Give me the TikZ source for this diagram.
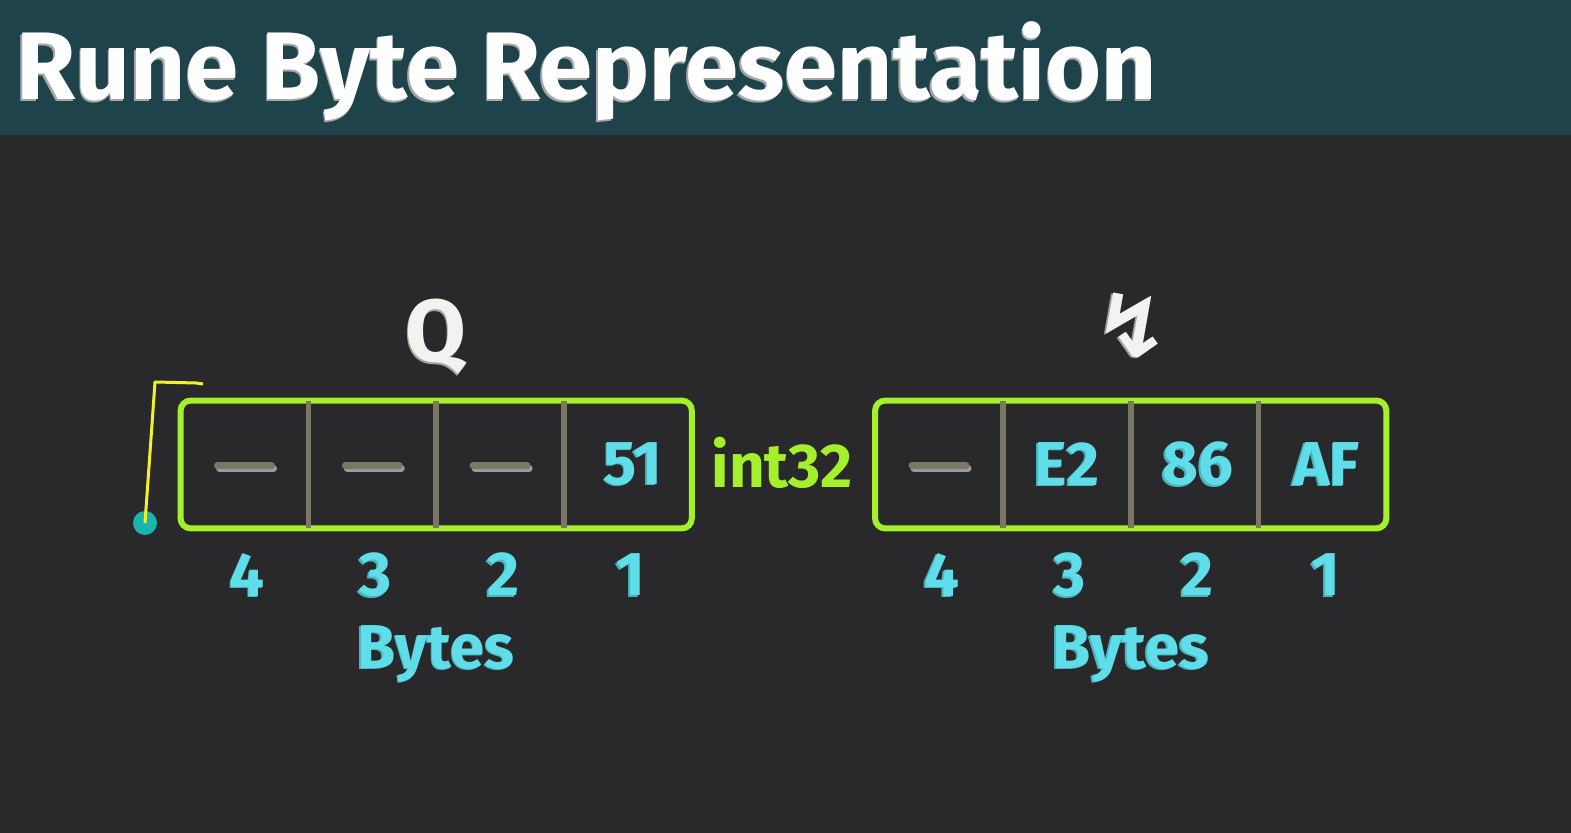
\documentclass[tikz,border=0pt]{standalone}
\usepackage{fontspec}
\setmainfont{Fira Sans}
\newfontfamily\symfont{DejaVu Sans}
\usepackage{xcolor}
\definecolor{bgdark}{HTML}{29282B}
\definecolor{headteal}{HTML}{1F434B}
\definecolor{framegreen}{HTML}{A4F02B}
\definecolor{divgray}{HTML}{7A7763}
\definecolor{bytecyan}{HTML}{5FDDE8}
\definecolor{cyanshade}{HTML}{4AB5BF}
\definecolor{dotteal}{HTML}{1AB5AE}
\definecolor{penyellow}{HTML}{F2F22C}
\definecolor{softwhite}{HTML}{F2F2F0}
\usetikzlibrary{positioning, calc, fit}
% text with a small offset shade behind it
\newcommand\shtxt[2]{\makebox[0pt][l]{\kern-0.8pt\raisebox{-0.8pt}{\textcolor{#1}{#2}}}#2}

\begin{document}
\begin{tikzpicture}[x=0.5pt, y=-0.5pt,
  cell/.style={minimum width=63.5pt, minimum height=63.5pt, inner sep=0pt,
    font=\fontsize{31}{33}\selectfont\bfseries, text=bytecyan},
  frame/.style={draw=framegreen, line width=3pt, rounded corners=5pt, inner sep=0pt},
  divider/.style={draw=divgray, line width=2.8pt},
  nodash/.style={draw=divgray, line width=3.5pt, line cap=round},
  numlbl/.style={font=\fontsize{31}{33}\selectfont\bfseries, text=bytecyan, inner sep=0pt},
  glyph/.style={font=\fontsize{44}{46}\selectfont\bfseries, text=softwhite, inner sep=0pt},
  pen/.style={draw=penyellow, line width=1.5pt, line join=round},
  dot/.style={circle, fill=dotteal, minimum size=12pt, inner sep=0pt},
]
  \useasboundingbox (0,0) rectangle (1571,833);
  \fill[bgdark] (0,0) rectangle (1571,833);
  \fill[headteal] (0,0) rectangle (1571,135);
  \node[anchor=base west, inner sep=0pt, text=white,
    font=\fontsize{48}{50}\selectfont\bfseries] (title) at (16,100)
    {\shtxt{black!35}{Rune Byte Representation}};

  % left rune: Q
  \node[cell] (q4) at (244.5,464.5) {};
  \node[cell, right=0pt of q4] (q3) {};
  \node[cell, right=0pt of q3] (q2) {};
  \node[cell, right=0pt of q2] (q1) {\hspace{5pt}\shtxt{cyanshade}{51}};
  \node[frame, fit=(q4)(q1)] (qbox) {};
  \foreach \c in {q4,q3,q2}
    \draw[divider] (\c.north east) -- (\c.south east);
  \foreach \c in {q4,q3,q2} {
    \draw[nodash, draw=black!40] ($(\c.center)+(-25,4)$) -- ($(\c.center)+(29,4)$);
    \draw[nodash] ($(\c.center)+(-27,1)$) -- ($(\c.center)+(27,1)$);
  }
  \node[glyph, anchor=base] (qchar) at ($(qbox.north)+(0,-36)$) {\shtxt{black!35}{Q}};

  % type in between
  \node[numlbl, text=framegreen, anchor=base] (type) at (782,488) {int32};

  % right rune: zigzag arrow
  \node[cell] (z4) at (939,464.5) {};
  \node[cell, right=0pt of z4] (z3) {\shtxt{cyanshade}{E2}};
  \node[cell, right=0pt of z3] (z2) {\hspace{3pt}\shtxt{cyanshade}{86}};
  \node[cell, right=0pt of z2] (z1) {\hspace{4pt}\shtxt{cyanshade}{AF}};
  \node[frame, fit=(z4)(z1)] (zbox) {};
  \foreach \c in {z4,z3,z2}
    \draw[divider] (\c.north east) -- (\c.south east);
  \draw[nodash, draw=black!40] ($(z4.center)+(-25,4)$) -- ($(z4.center)+(29,4)$);
  \draw[nodash] ($(z4.center)+(-27,1)$) -- ($(z4.center)+(27,1)$);
  \node[glyph, font=\symfont\fontsize{44}{46}\selectfont\bfseries] (zchar) at (1132,326)
    {\shtxt{black!35}{↯}};

  % byte numbers
  \foreach \b/\n in {q4/4,q3/3,q2/2,q1/1,z4/4,z3/3,z2/2,z1/1}
    \node[numlbl] (n-\b) at ($(\b.south)+(3,47)$) {\shtxt{cyanshade}{\n}};
  \node[numlbl, anchor=base] (qbytes) at ($(qbox.south)+(0,137)$) {\shtxt{cyanshade}{Bytes}};
  \node[numlbl, anchor=base] (zbytes) at ($(zbox.south)+(0,137)$) {\shtxt{cyanshade}{Bytes}};

  % pen stroke
  \node[dot] (pin) at (145,523) {};
  \coordinate (bend) at (155,382);
  \coordinate (tip) at (203,384);
  \draw[pen] (pin.center) -- (bend) -- (196,383) -- (tip);
\end{tikzpicture}
\end{document}
